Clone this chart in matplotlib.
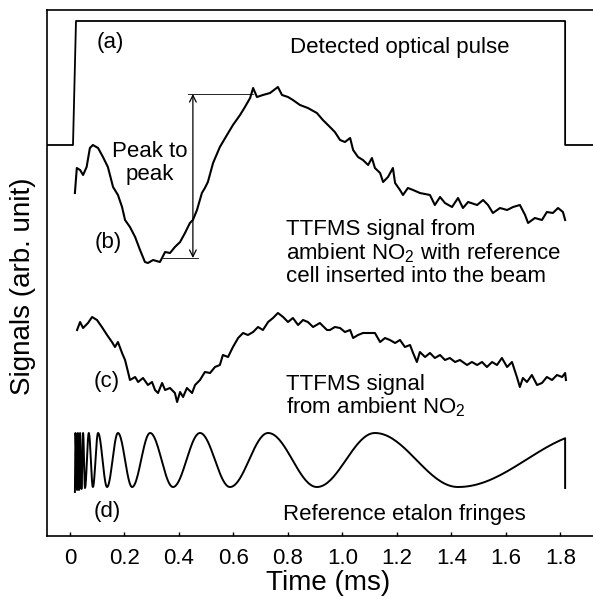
import numpy as np
import matplotlib
matplotlib.use("Agg")
import matplotlib.pyplot as plt

plt.rcParams['font.family'] = ['Liberation Sans', 'DejaVu Sans']
plt.rcParams['mathtext.default'] = 'regular'

# ---------------- data (time in ms, signal in arb. units) ----------------
pulse_t = [-0.09, 0.011, 0.022, 1.817, 1.817, 1.93]
pulse_v = [3.91, 3.91, 5.15, 5.15, 3.91, 3.91]

trace_b_t = [0.018, 0.025, 0.037, 0.048, 0.061, 0.073, 0.084, 0.103, 0.121, 0.139,
             0.158, 0.176, 0.191, 0.202, 0.220, 0.239, 0.257, 0.275, 0.286, 0.305,
             0.330, 0.349, 0.367, 0.385, 0.404, 0.422, 0.440, 0.451, 0.466, 0.484,
             0.495, 0.506, 0.525, 0.550, 0.576, 0.598, 0.624, 0.642, 0.661, 0.672,
             0.686, 0.708, 0.734, 0.763, 0.778, 0.800, 0.818, 0.844, 0.873, 0.906,
             0.928, 0.954, 0.972, 0.991, 1.009, 1.028, 1.039, 1.057, 1.075, 1.094,
             1.108, 1.119, 1.138, 1.149, 1.167, 1.185, 1.193, 1.211, 1.222, 1.240,
             1.259, 1.284, 1.321, 1.339, 1.358, 1.376, 1.402, 1.424, 1.442, 1.461,
             1.494, 1.516, 1.534, 1.552, 1.578, 1.604, 1.626, 1.651, 1.670, 1.681,
             1.706, 1.732, 1.750, 1.772, 1.791, 1.809, 1.817]
trace_b_v = [3.43, 3.68, 3.66, 3.61, 3.69, 3.88, 3.91, 3.88, 3.79, 3.69,
             3.49, 3.41, 3.29, 3.16, 3.09, 2.99, 2.86, 2.74, 2.73, 2.76,
             2.74, 2.84, 2.83, 2.89, 2.94, 3.03, 3.13, 3.16, 3.26, 3.43,
             3.48, 3.54, 3.73, 3.89, 4.01, 4.11, 4.21, 4.29, 4.38, 4.48,
             4.39, 4.41, 4.43, 4.49, 4.41, 4.39, 4.36, 4.31, 4.28, 4.23,
             4.16, 4.09, 4.04, 3.96, 3.94, 3.98, 3.86, 3.79, 3.76, 3.71,
             3.78, 3.68, 3.63, 3.54, 3.59, 3.68, 3.53, 3.46, 3.41, 3.48,
             3.46, 3.43, 3.41, 3.31, 3.39, 3.33, 3.29, 3.38, 3.28, 3.34,
             3.31, 3.36, 3.31, 3.23, 3.28, 3.26, 3.29, 3.31, 3.21, 3.13,
             3.18, 3.16, 3.24, 3.23, 3.28, 3.24, 3.16]

trace_c_t = [0.026, 0.037, 0.048, 0.066, 0.081, 0.099, 0.117, 0.136, 0.154, 0.165,
             0.176, 0.191, 0.202, 0.213, 0.220, 0.239, 0.250, 0.268, 0.286, 0.301,
             0.312, 0.323, 0.338, 0.349, 0.367, 0.385, 0.393, 0.404, 0.415, 0.429,
             0.448, 0.459, 0.477, 0.495, 0.514, 0.532, 0.550, 0.561, 0.580, 0.598,
             0.617, 0.635, 0.653, 0.672, 0.690, 0.708, 0.727, 0.745, 0.763, 0.782,
             0.800, 0.818, 0.837, 0.855, 0.873, 0.892, 0.917, 0.943, 0.954, 0.972,
             0.991, 1.009, 1.028, 1.039, 1.057, 1.075, 1.101, 1.119, 1.138, 1.156,
             1.174, 1.193, 1.211, 1.229, 1.248, 1.259, 1.273, 1.284, 1.303, 1.321,
             1.339, 1.358, 1.376, 1.394, 1.413, 1.431, 1.457, 1.475, 1.494, 1.512,
             1.530, 1.549, 1.567, 1.585, 1.604, 1.622, 1.640, 1.651, 1.662, 1.677,
             1.695, 1.714, 1.732, 1.750, 1.769, 1.787, 1.806, 1.817, 1.820]
trace_c_v = [2.06, 2.14, 2.08, 2.13, 2.19, 2.16, 2.09, 2.01, 1.94, 1.89,
             1.94, 1.83, 1.76, 1.64, 1.56, 1.59, 1.54, 1.58, 1.51, 1.54,
             1.46, 1.43, 1.53, 1.46, 1.48, 1.43, 1.34, 1.44, 1.39, 1.48,
             1.43, 1.51, 1.56, 1.64, 1.63, 1.69, 1.71, 1.81, 1.79, 1.89,
             1.98, 2.03, 2.01, 2.04, 2.09, 2.06, 2.14, 2.18, 2.23, 2.19,
             2.14, 2.18, 2.11, 2.16, 2.14, 2.09, 2.13, 2.06, 2.06, 2.09,
             2.08, 2.04, 2.06, 1.98, 2.01, 2.03, 2.03, 2.03, 1.94, 1.98,
             1.96, 1.93, 1.96, 1.89, 1.91, 1.83, 1.74, 1.84, 1.79, 1.83,
             1.78, 1.81, 1.76, 1.78, 1.74, 1.76, 1.71, 1.74, 1.71, 1.74,
             1.69, 1.74, 1.71, 1.78, 1.69, 1.74, 1.59, 1.49, 1.58, 1.54,
             1.61, 1.51, 1.53, 1.59, 1.56, 1.61, 1.59, 1.63, 1.56]

# etalon fringe extrema (alternating peak / trough)
fringe_ext_t = [0.020, 0.026, 0.029, 0.033, 0.037, 0.042, 0.048, 0.055, 0.069, 0.084,
                0.103, 0.136, 0.176, 0.228, 0.294, 0.378, 0.477, 0.587, 0.727, 0.906,
                1.119, 1.424, 1.927]
fringe_ext_v = [1.03, 0.46, 1.03, 0.46, 1.03, 0.47, 1.03, 0.48, 1.03, 0.49,
                1.03, 0.49, 1.03, 0.49, 1.03, 0.49, 1.03, 0.49, 1.03, 0.49,
                1.03, 0.49, 1.04]
fringe_start = (0.018, 0.44)
fringe_end_t = 1.817
fringe_end_low = 0.48

xticks = [0, 0.2, 0.4, 0.6, 0.8, 1.0, 1.2, 1.4, 1.6, 1.8]
xticklabels = ['0', '0.2', '0.4', '0.6', '0.8', '1.0', '1.2', '1.4', '1.6', '1.8']

# ---------------- figure ----------------
fig = plt.figure(figsize=(5.93, 6.02), dpi=100)
ax = fig.add_axes([47 / 593, 66 / 602, 546 / 593, 526 / 602])
ax.set_xlim(-0.0844, 1.9193)
ax.set_ylim(0, 5.26)

lw = 1.5
ax.plot(pulse_t, pulse_v, color='black', lw=1.3)
ax.plot(trace_b_t, trace_b_v, color='black', lw=lw)
ax.plot(trace_c_t, trace_c_v, color='black', lw=lw)

# etalon fringes: smooth half-cosine between successive extrema
ft, fv = [fringe_start[0]], [fringe_start[1]]
for i in range(len(fringe_ext_t) - 1):
    t0, t1 = fringe_ext_t[i], fringe_ext_t[i + 1]
    v0, v1 = fringe_ext_v[i], fringe_ext_v[i + 1]
    s = np.linspace(0, 1, 40)
    tt = t0 + (t1 - t0) * s
    vv = v0 + (v1 - v0) * (1 - np.cos(np.pi * s)) / 2
    keep = tt <= fringe_end_t
    ft.extend(tt[keep]); fv.extend(vv[keep])
    if t1 > fringe_end_t:
        sf = (fringe_end_t - t0) / (t1 - t0)
        ft.append(fringe_end_t)
        fv.append(v0 + (v1 - v0) * (1 - np.cos(np.pi * sf)) / 2)
        break
ft.append(fringe_end_t); fv.append(fringe_end_low)
ax.plot(ft, fv, color='black', lw=1.4)

# peak-to-peak markers
ax.plot([0.433, 0.672], [4.42, 4.42], color='black', lw=0.6)
ax.plot([0.341, 0.470], [2.78, 2.78], color='black', lw=0.6)
ax.annotate('', xy=(0.451, 4.42), xytext=(0.451, 2.78),
            arrowprops=dict(arrowstyle='<->', color='black', lw=0.9,
                            shrinkA=0, shrinkB=0, mutation_scale=12))

fs = 16
ax.text(0.099, 4.88, '(a)', fontsize=fs, va='baseline', ha='left')
ax.text(0.807, 4.83, 'Detected optical pulse', fontsize=fs, va='baseline', ha='left')
ax.text(0.294, 3.79, 'Peak to', fontsize=fs, va='baseline', ha='center')
ax.text(0.294, 3.56, 'peak', fontsize=fs, va='baseline', ha='center')
ax.text(0.092, 2.88, '(b)', fontsize=fs, va='baseline', ha='left')
ax.text(0.792, 3.01, 'TTFMS signal from', fontsize=fs, va='baseline', ha='left')
ax.text(0.792, 2.77, 'ambient NO$_2$ with reference', fontsize=fs, va='baseline', ha='left')
ax.text(0.792, 2.54, 'cell inserted into the beam', fontsize=fs, va='baseline', ha='left')
ax.text(0.088, 1.49, '(c)', fontsize=fs, va='baseline', ha='left')
ax.text(0.792, 1.46, 'TTFMS signal', fontsize=fs, va='baseline', ha='left')
ax.text(0.792, 1.23, 'from ambient NO$_2$', fontsize=fs, va='baseline', ha='left')
ax.text(0.088, 0.19, '(d)', fontsize=fs, va='baseline', ha='left')
ax.text(0.782, 0.16, 'Reference etalon fringes', fontsize=fs, va='baseline', ha='left')

ax.set_xticks(xticks)
ax.set_xticklabels(xticklabels, fontsize=16)
ax.set_yticks([])
ax.tick_params(axis='x', direction='in', length=3, width=1, pad=9)
ax.spines['right'].set_visible(False)
for s in ['left', 'bottom', 'top']:
    ax.spines[s].set_linewidth(1.2)

fig.text(328 / 593, (602 - 590) / 602, 'Time (ms)', fontsize=20,
         ha='center', va='baseline')
fig.text(23 / 593, (602 - 286) / 602, 'Signals (arb. unit)', fontsize=20,
         ha='center', va='center', rotation=90)

fig.savefig('out.png', dpi=100)
